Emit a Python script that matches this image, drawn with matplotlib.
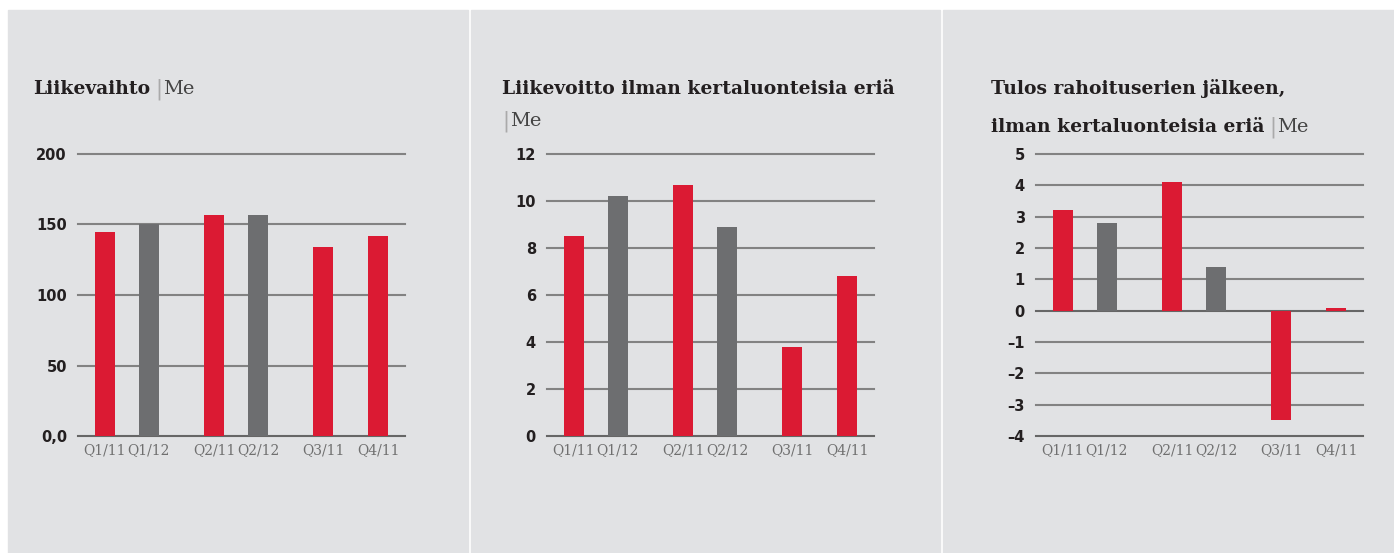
import numpy as np
import matplotlib.pyplot as plt
from matplotlib.patches import Rectangle

# data
quarters = ["Q1/11", "Q1/12", "Q2/11", "Q2/12", "Q3/11", "Q4/11"]
is_2012 = [False, True, False, True, False, False]
liikevaihto = [145, 150, 157, 157, 134, 142]
liikevoitto = [8.5, 10.2, 10.7, 8.9, 3.8, 6.8]
tulos = [3.2, 2.8, 4.1, 1.4, -3.5, 0.1]

ticks1 = [0, 50, 100, 150, 200]
ticklabels1 = ["0,0", "50", "100", "150", "200"]
ticks2 = [0, 2, 4, 6, 8, 10, 12]
ticks3 = [-4, -3, -2, -1, 0, 1, 2, 3, 4, 5]

RED = "#db1a33"
GREY = "#6d6e70"
PANEL = "#e1e2e4"
W, H = 1394, 553

fig = plt.figure(figsize=(W / 100, H / 100), dpi=100)
fig.patch.set_facecolor("white")

# grey panels
for x0, x1 in [(8, 468), (471, 940), (943, 1394)]:
    fig.patches.append(Rectangle((x0 / W, 0), (x1 - x0) / W, (H - 10) / H,
                                 transform=fig.transFigure, color=PANEL, zorder=-5))

xpos = np.array([0, 1, 2.5, 3.5, 5, 6.25])
colors = [GREY if g else RED for g in is_2012]


def draw(left_px, values, ticks, labels, ylim):
    ax = fig.add_axes([left_px / W, 117 / H, 327 / W, 282 / H])
    ax.set_facecolor("none")
    for t in ticks:
        c = "#666666" if t in (ylim[0], 0) else "#828282"
        ax.axhline(t, color=c, lw=1.5, zorder=1, clip_on=False)
    ax.bar(xpos, values, width=0.46, color=colors, zorder=2)
    ax.set_xlim(-0.618, 6.868)
    ax.set_ylim(*ylim)
    ax.set_yticks(ticks)
    ax.set_yticklabels(labels, fontsize=10.5, fontweight="bold", color="#231f20")
    ax.set_xticks(xpos)
    ax.set_xticklabels(quarters, fontsize=10, color="#6f6f6f", family="DejaVu Serif")
    ax.tick_params(length=0, axis="y", pad=8)
    ax.tick_params(length=0, axis="x", pad=5)
    for s in ax.spines.values():
        s.set_visible(False)
    return ax


draw(78, liikevaihto, ticks1, ticklabels1, (0, 200))
draw(547, liikevoitto, ticks2, [str(t) for t in ticks2], (0, 12))
draw(1036, tulos, ticks3, [str(t).replace("-", "\u2013") for t in ticks3], (-4, 5))

renderer = fig.canvas.get_renderer()


def unit(x, y):
    # thin bar + "Me" after the bold title
    fig.text(x / W, 1 - y / H, "|", fontsize=15, color="#aaaaaa", va="center")
    fig.text((x + 8) / W, 1 - y / H, "Me", fontsize=14, color="#444444",
             family="DejaVu Serif", va="center")


def title(x, y, bold, with_unit=True):
    t = fig.text(x / W, 1 - y / H, bold, fontsize=13.5, fontweight="bold",
                 family="DejaVu Serif", color="#231f20", va="center")
    if with_unit:
        bb = t.get_window_extent(renderer)
        unit(bb.x1 + 5, y)
    return t


title(33, 89, "Liikevaihto")
title(502, 89, "Liikevoitto ilman kertaluonteisia eriä", with_unit=False)
unit(502, 121)
title(991, 89, "Tulos rahoituserien jälkeen,", with_unit=False)
title(991, 127, "ilman kertaluonteisia eriä")

fig.savefig("out.png", dpi=100)
